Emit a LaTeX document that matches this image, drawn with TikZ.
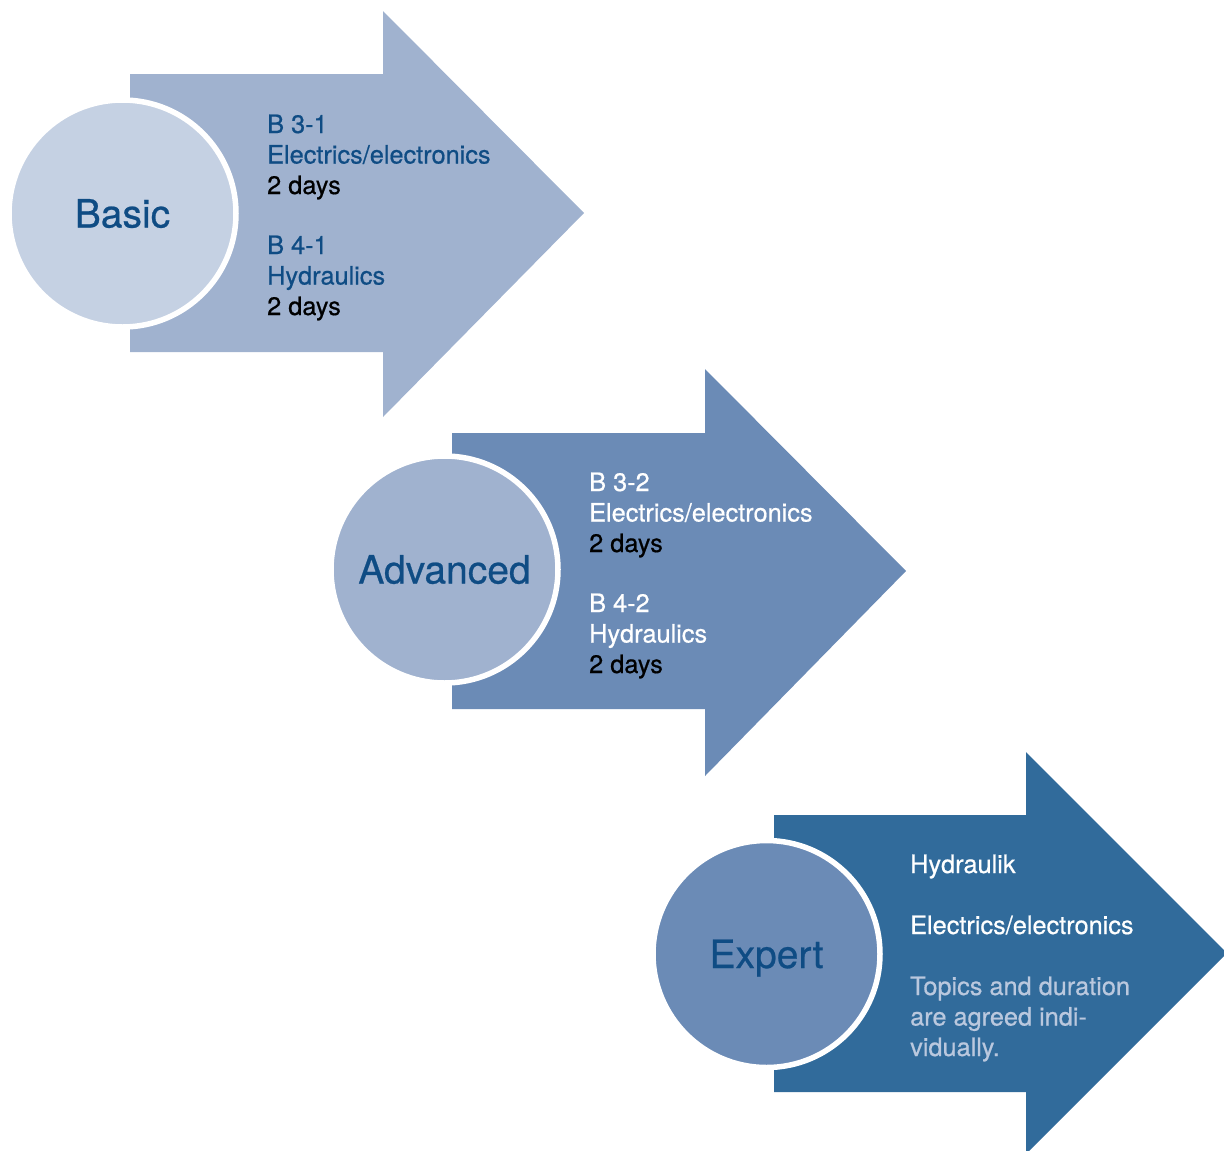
\documentclass[tikz,border=0pt]{standalone}
\usepackage{fontspec}
\setmainfont[FakeBold=0.6]{TeX Gyre Heros}
\definecolor{blA}{HTML}{C5D1E3}
\definecolor{blB}{HTML}{A0B2CF}
\definecolor{blC}{HTML}{6B8BB6}
\definecolor{blD}{HTML}{316B9B}
\definecolor{dkblue}{HTML}{0F4C84}
\definecolor{paletxt}{HTML}{BAC8DE}
\begin{document}
\begin{tikzpicture}[x=1bp,y=-1bp,
  stage/.style={circle,inner sep=0pt,minimum size=227bp,draw=white,line width=5.5bp,
    font=\fontsize{39bp}{44bp}\selectfont,text=dkblue,text height=28bp,text depth=0bp},
  ln/.style={anchor=base west,inner sep=0pt,font=\fontsize{25.3bp}{30bp}\selectfont}]
\useasboundingbox (0,0) rectangle (1224,1151);
% arrows
\fill[blB] (130,74) -- (383,74) -- (383,11) -- (584,213) -- (383,417) -- (383,352) -- (130,352) -- cycle;
\fill[blC] (452,433) -- (705,433) -- (705,369) -- (906,571) -- (705,776) -- (705,709) -- (452,709) -- cycle;
\fill[blD] (774,815) -- (1026,815) -- (1026,752) -- (1227,953) -- (1026,1154) -- (1026,1092) -- (774,1092) -- cycle;
% circles
\node[stage,fill=blA] (c1) at (122.5,213.5) {Basic};
\node[stage,fill=blB] (c2) at (444.5,569.5) {Advanced};
\node[stage,fill=blC] (c3) at (766.5,954) {Expert};
% texts arrow 1
\node[ln,text=dkblue] (t11) at (267,133) {B 3-1};
\node[ln,text=dkblue] (t12) at (267,163.5) {Electrics/electronics};
\node[ln,text=black] (t13) at (267,194) {2 days};
\node[ln,text=dkblue] (t14) at (267,254) {B 4-1};
\node[ln,text=dkblue] (t15) at (267,284.5) {Hydraulics};
\node[ln,text=black] (t16) at (267,315) {2 days};
% texts arrow 2
\node[ln,text=white] (t21) at (589,491) {B 3-2};
\node[ln,text=white] (t22) at (589,521.5) {Electrics/electronics};
\node[ln,text=black] (t23) at (589,552) {2 days};
\node[ln,text=white] (t24) at (589,612) {B 4-2};
\node[ln,text=white] (t25) at (589,642.5) {Hydraulics};
\node[ln,text=black] (t26) at (589,673) {2 days};
% texts arrow 3
\node[ln,text=white] (t31) at (910,873) {Hydraulik};
\node[ln,text=white] (t32) at (910,934) {Electrics/electronics};
\node[ln,text=paletxt] (t33) at (910,995) {Topics and duration};
\node[ln,text=paletxt] (t34) at (910,1025.5) {are agreed indi-};
\node[ln,text=paletxt] (t35) at (910,1056) {vidually.};
\end{tikzpicture}
\end{document}
